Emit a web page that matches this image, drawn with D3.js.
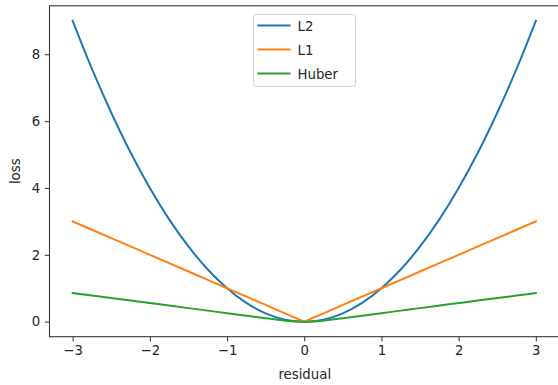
<!DOCTYPE html>
<html>
<head>
<meta charset="utf-8">
<script src="https://cdn.jsdelivr.net/npm/d3@7"></script>
<style>
  body { margin: 0; background: #fff; }
  text { font-family: "DejaVu Sans", sans-serif; fill: #262626; }
</style>
</head>
<body>
<div id="chart"></div>
<script>
// residual values (x) and the three losses
var residual = [-3, -2.75, -2.5, -2.25, -2, -1.75, -1.5, -1.25, -1, -0.75, -0.5, -0.25, 0,
                0.25, 0.5, 0.75, 1, 1.25, 1.5, 1.75, 2, 2.25, 2.5, 2.75, 3];
var l2 = [9, 7.56, 6.25, 5.06, 4, 3.06, 2.25, 1.56, 1, 0.56, 0.25, 0.06, 0,
          0.06, 0.25, 0.56, 1, 1.56, 2.25, 3.06, 4, 5.06, 6.25, 7.56, 9];
var l1 = [3, 2.75, 2.5, 2.25, 2, 1.75, 1.5, 1.25, 1, 0.75, 0.5, 0.25, 0,
          0.25, 0.5, 0.75, 1, 1.25, 1.5, 1.75, 2, 2.25, 2.5, 2.75, 3];
var huber = [0.855, 0.78, 0.705, 0.63, 0.555, 0.48, 0.405, 0.33, 0.255, 0.18, 0.105, 0.03, 0,
             0.03, 0.105, 0.18, 0.255, 0.33, 0.405, 0.48, 0.555, 0.63, 0.705, 0.78, 0.855];
var seriesNames = ["L2", "L1", "Huber"];
var xTicks = [-3, -2, -1, 0, 1, 2, 3];
var yTicks = [0, 2, 4, 6, 8];

var svgWidth = 558;
var svgHeight = 385;

var plot = { left: 49.5, top: 5.8, right: 559, bottom: 336.7 };

var svg = d3.select("#chart")
    .append("svg")
    .attr("width", svgWidth)
    .attr("height", svgHeight);

var xScale = d3.scaleLinear()
    .domain([-3.3, 3.3])
    .range([plot.left, plot.right]);

var yScale = d3.scaleLinear()
    .domain([-0.45, 9.45])
    .range([plot.bottom, plot.top]);

var colors = ["#1f77b4", "#ff7f0e", "#2ca02c"];
var curves = [d3.curveMonotoneX, d3.curveLinear, d3.curveMonotoneX];
var allSeries = [l2, l1, huber];

// lines
allSeries.forEach(function (vals, i) {
    var line = d3.line()
        .x(function (d, j) { return xScale(residual[j]); })
        .y(function (d) { return yScale(d); })
        .curve(curves[i]);
    svg.append("path")
        .datum(vals)
        .attr("fill", "none")
        .attr("stroke", colors[i])
        .attr("stroke-width", 2)
        .attr("stroke-linejoin", "round")
        .attr("stroke-linecap", "square")
        .attr("d", line);
});

// axes
var bottomAxis = d3.axisBottom(xScale)
    .tickValues(xTicks)
    .tickSize(4.7)
    .tickPadding(4)
    .tickFormat(function (d) { return d < 0 ? "\u2212" + Math.abs(d) : d; });
var leftAxis = d3.axisLeft(yScale)
    .tickValues(yTicks)
    .tickSize(4.7)
    .tickPadding(4.5);

var gx = svg.append("g")
    .attr("transform", `translate(0, ${plot.bottom})`)
    .call(bottomAxis);
var gy = svg.append("g")
    .attr("transform", `translate(${plot.left}, 0)`)
    .call(leftAxis);

[gx, gy].forEach(function (g) {
    g.select(".domain").remove();
    g.selectAll("line").attr("stroke", "#333").attr("stroke-width", 1);
    g.selectAll("text").attr("font-size", "13.3px")
        .attr("font-family", "DejaVu Sans").attr("fill", "#262626");
});

// spines (left, bottom, top; right one falls outside the picture)
svg.append("rect")
    .attr("x", plot.left)
    .attr("y", plot.top)
    .attr("width", plot.right - plot.left)
    .attr("height", plot.bottom - plot.top)
    .attr("fill", "none")
    .attr("stroke", "#333")
    .attr("stroke-width", 1.07);

// axis labels
svg.append("text")
    .attr("x", (plot.left + 558) / 2 + 1)
    .attr("y", 379)
    .attr("text-anchor", "middle")
    .attr("font-size", "13.3px")
    .text("residual");

svg.append("text")
    .attr("transform", `translate(20, ${(plot.top + plot.bottom) / 2}) rotate(-90)`)
    .attr("text-anchor", "middle")
    .attr("font-size", "13.3px")
    .text("loss");

// legend
var legend = svg.append("g").attr("transform", "translate(253.5, 14.5)");
legend.append("rect")
    .attr("width", 102)
    .attr("height", 72)
    .attr("rx", 3)
    .attr("fill", "#fff")
    .attr("fill-opacity", 0.8)
    .attr("stroke", "#d0d0d0")
    .attr("stroke-width", 1);

seriesNames.forEach(function (name, i) {
    var y = 11 + i * 24;
    legend.append("line")
        .attr("x1", 4).attr("x2", 37)
        .attr("y1", y).attr("y2", y)
        .attr("stroke", colors[i])
        .attr("stroke-width", 2);
    legend.append("text")
        .attr("x", 44)
        .attr("y", y + 5)
        .attr("font-size", "13.3px")
        .text(name);
});
</script>
</body>
</html>
